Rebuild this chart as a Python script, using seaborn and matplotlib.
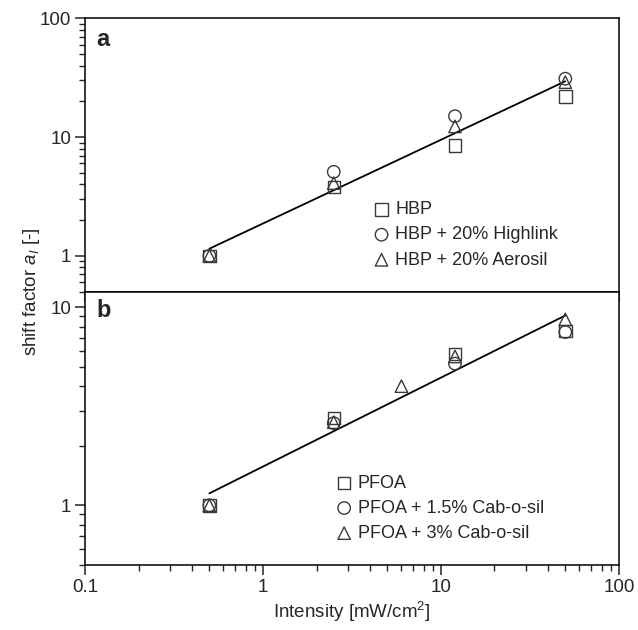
import numpy as np
import pandas as pd
import matplotlib
matplotlib.use("Agg")
import matplotlib.pyplot as plt
from matplotlib.ticker import LogLocator, NullFormatter, FixedFormatter, FixedLocator
import seaborn as sns

# panel a data
x_a = [0.5, 2.5, 12, 50]
hbp = [1.0, 3.8, 8.5, 22]
hbp_highlink = [1.0, 5.1, 15, 31]
hbp_aerosil = [1.0, 4.1, 12.3, 29]
fit_a_x = [0.5, 50]
fit_a_y = [1.15, 29.5]

# panel b data
x_b = [0.5, 2.5, 12, 50]
pfoa = [1.0, 2.77, 5.8, 7.6]
pfoa_cab15 = [1.0, 2.6, 5.2, 7.5]
x_b3 = [0.5, 2.5, 6, 12, 50]
pfoa_cab3 = [1.0, 2.63, 4.0, 5.65, 8.7]
fit_b_x = [0.5, 50]
fit_b_y = [1.15, 9.1]

sns.set_style("ticks")
plt.rcParams['font.family'] = ['Liberation Sans', 'DejaVu Sans']
plt.rcParams['mathtext.fontset'] = 'custom'
plt.rcParams['mathtext.rm'] = 'Liberation Sans'
plt.rcParams['mathtext.it'] = 'Liberation Sans:italic'

edge = '#3a3a3a'

fig = plt.figure(figsize=(6.38, 6.3), dpi=100)
ax1 = fig.add_axes([0.1332, 0.537, 0.8368, 0.434])
ax2 = fig.add_axes([0.1332, 0.1032, 0.8368, 0.4338])


def draw_panel(ax, series, fit_x, fit_y):
    sns.lineplot(x=fit_x, y=fit_y, ax=ax, color='black', linewidth=1.3, legend=False)
    for xs, ys, mk, lab in series:
        ax.scatter(xs, ys, marker=mk, s=80, facecolors='none', edgecolors=edge,
                   linewidths=1.0, label=lab, zorder=3)
    ax.set_xscale('log')
    ax.set_yscale('log')
    ax.set_xlim(0.1, 100)
    for sp in ax.spines.values():
        sp.set_linewidth(1.1)
        sp.set_color('black')
    ax.tick_params(which='major', direction='out', length=7, width=1.1, labelsize=13.5,
                   top=False, right=False, pad=3)
    ax.tick_params(which='minor', direction='out', length=4, width=1.0,
                   top=False, right=False)
    ax.xaxis.set_minor_locator(LogLocator(base=10, subs=np.arange(2, 10)))
    ax.yaxis.set_minor_locator(LogLocator(base=10, subs=np.arange(2, 10)))
    ax.yaxis.set_minor_formatter(NullFormatter())
    ax.xaxis.set_minor_formatter(NullFormatter())


draw_panel(ax1, [(x_a, hbp, 's', 'HBP'),
                 (x_a, hbp_highlink, 'o', 'HBP + 20% Highlink'),
                 (x_a, hbp_aerosil, '^', 'HBP + 20% Aerosil')], fit_a_x, fit_a_y)
draw_panel(ax2, [(x_b, pfoa, 's', 'PFOA'),
                 (x_b, pfoa_cab15, 'o', 'PFOA + 1.5% Cab-o-sil'),
                 (x_b3, pfoa_cab3, '^', 'PFOA + 3% Cab-o-sil')], fit_b_x, fit_b_y)

ax1.set_ylim(0.5, 100)
ax2.set_ylim(0.5, 12)

ax1.yaxis.set_major_locator(FixedLocator([1, 10, 100]))
ax1.yaxis.set_major_formatter(FixedFormatter(['1', '10', '100']))
ax2.yaxis.set_major_locator(FixedLocator([1, 10]))
ax2.yaxis.set_major_formatter(FixedFormatter(['1', '10']))
ax1.xaxis.set_major_locator(FixedLocator([0.1, 1, 10, 100]))
ax1.tick_params(axis='x', labelbottom=False)
ax2.xaxis.set_major_locator(FixedLocator([0.1, 1, 10, 100]))
ax2.xaxis.set_major_formatter(FixedFormatter(['0.1', '1', '10', '100']))

ax1.set_xlabel('')
ax1.set_ylabel('')
ax2.set_ylabel('')
ax2.set_xlabel('Intensity [mW/cm$^2$]', fontsize=13.5, labelpad=3)

ax1.text(0.022, 0.965, 'a', transform=ax1.transAxes, fontsize=17, fontweight='bold',
         va='top', ha='left')
ax2.text(0.022, 0.975, 'b', transform=ax2.transAxes, fontsize=17, fontweight='bold',
         va='top', ha='left')

leg_kw = dict(frameon=False, fontsize=13, handletextpad=0.25, labelspacing=0.45,
              borderaxespad=0, handlelength=1.0, loc='upper left')
ax1.legend(bbox_to_anchor=(0.525, 0.357), **leg_kw)
ax2.legend(bbox_to_anchor=(0.455, 0.357), **leg_kw)

fig.text(0.05, 0.537, 'shift factor $a_I$ [-]', rotation=90, fontsize=13.5,
         ha='center', va='center')

fig.savefig('out.png', dpi=100)
